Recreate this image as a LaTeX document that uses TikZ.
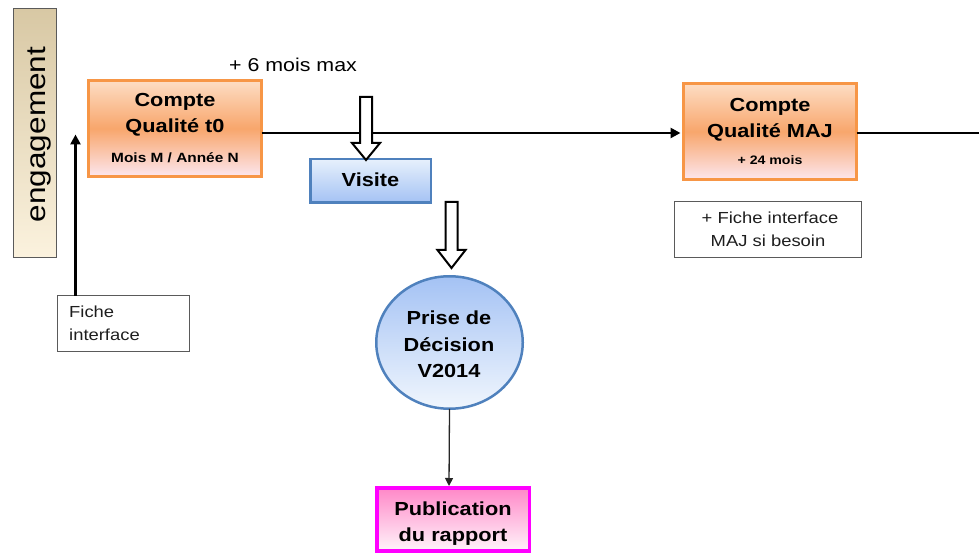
\documentclass[tikz,border=0pt]{standalone}
\usepackage{fontspec}
\setmainfont[FakeStretch=1.15]{Liberation Sans}
\usetikzlibrary{calc,arrows.meta,shapes.geometric}
\definecolor{cqborder}{HTML}{F79646}
\definecolor{cqtop}{HTML}{FDDDC4}
\definecolor{cqmid}{HTML}{F8A66C}
\definecolor{cqbot}{HTML}{FCE6EE}
\definecolor{blborder}{HTML}{4F81BD}
\definecolor{bllight}{HTML}{E6F0FC}
\definecolor{bldark}{HTML}{A4C2F4}
\definecolor{pkborder}{HTML}{FF00FF}
\definecolor{pktop}{HTML}{FF88C8}
\definecolor{pkbot}{HTML}{FFF4FA}
\definecolor{engtop}{HTML}{D8C8A4}
\definecolor{engbot}{HTML}{FBF2DE}
\definecolor{engborder}{HTML}{5A5A5A}
\definecolor{txtgray}{HTML}{1E1E1E}
\newcommand{\hollowdown}[4]{%
  \draw[hollow] (#1-6,#2) -- (#1-6,#3) -- (#1-14,#3) -- (#1,#4) -- (#1+14,#3) -- (#1+6,#3) -- (#1+6,#2) -- cycle;}
\begin{document}
\begin{tikzpicture}[x=1pt,y=-1pt,
  shapebox/.style={rectangle, inner sep=0pt, outer sep=0pt},
  orangebox/.style={shapebox, draw=cqborder, line width=3pt, top color=cqtop, bottom color=cqbot, middle color=cqmid, minimum width=173pt, minimum height=96pt},
  visitebox/.style={shapebox, draw=blborder, line width=2.5pt, top color=bllight, bottom color=bldark, minimum width=120.5pt, minimum height=43.5pt},
  decisionell/.style={ellipse, inner sep=0pt, outer sep=0pt, draw=blborder, line width=2.5pt, top color=bldark, bottom color=bllight!60!white, minimum width=146.5pt, minimum height=132.5pt},
  pubbox/.style={shapebox, draw=pkborder, line width=3.5pt, top color=pktop, bottom color=pkbot, minimum width=152.5pt, minimum height=63pt},
  engbox/.style={shapebox, draw=engborder, line width=1pt, top color=engtop, bottom color=engbot, minimum width=43pt, minimum height=249pt},
  notebox/.style={shapebox, draw=engborder, line width=1pt, fill=white},
  tb/.style={inner sep=0pt, anchor=base, font=\fontsize{18.9}{22}\selectfont\bfseries},
  tbs/.style={inner sep=0pt, anchor=base, font=\fontsize{13.4}{16}\selectfont\bfseries},
  tbxs/.style={inner sep=0pt, anchor=base, font=\fontsize{12.3}{15}\selectfont\bfseries},
  treg/.style={inner sep=0pt, anchor=base, text=txtgray, font=\fontsize{16}{20}\selectfont},
  tbig/.style={inner sep=0pt, anchor=base, font=\fontsize{18.6}{22}\selectfont},
  conn/.style={draw=black, line width=2.5pt},
  thinconn/.style={draw=black!85, line width=1.3pt},
  hollow/.style={draw=black, line width=2pt, fill=white, line join=miter},
]
\useasboundingbox (0,0) rectangle (979,553);

% engagement banner
\node[engbox] (eng) at (35,133) {};
\node[inner sep=0pt, anchor=base, rotate=90, font=\fontsize{27.4}{30}\selectfont] (engtxt) at (45,134.5) {engagement};

% Compte Qualite t0
\node[orangebox] (t0) at (175,128.5) {};
\node[tb] (t0a) at (175,107) {Compte};
\node[tb] (t0b) at (175,133) {Qualité t0};
\node[tbs] (t0c) at (175,163) {Mois M / Année N};

% Compte Qualite MAJ
\node[orangebox] (maj) at (770,131.5) {};
\node[tb] (maja) at (770,112) {Compte};
\node[tb] (majb) at (770,138) {Qualité MAJ};
\node[tbxs] (majc) at (770,165) {+ 24 mois};

% main timeline
\coordinate (mainline) at (0,133);
\coordinate (rightend) at (979,133);
\draw[conn, -{Triangle[length=10pt,width=10pt]}] (t0.east |- mainline) -- ($(maj.west |- mainline)+(-3,0)$);
\draw[conn] (maj.east |- mainline) -- (rightend);

% + 6 mois max
\node[tbig] (sixmois) at (293,72) {+ 6 mois max};

% Visite
\node[visitebox] (visite) at (370.5,181) {};
\node[tb] (visitetxt) at (370.5,187) {Visite};

% hollow arrows
\hollowdown{366}{97}{143}{160}
\hollowdown{451.5}{202}{250}{268}

% Prise de decision
\node[decisionell] (dec) at (449.5,342.5) {};
\node[tb] (deca) at (449,324) {Prise de};
\node[tb] (decb) at (449,351) {Décision};
\node[tb] (decc) at (449,377) {V2014};

% Publication
\node[pubbox] (pub) at (453,519.5) {};
\node[tb] (puba) at (453,515) {Publication};
\node[tb] (pubb) at (453,541) {du rapport};
\draw[thinconn, -{Triangle[length=8pt,width=8pt]}] (dec.south) -- ($(pub.north)+(-4,-2)$);

% Fiche interface (left)
\node[notebox, minimum width=132pt, minimum height=56pt] (fiche) at (123.5,323.5) {};
\node[treg, anchor=base west] (fichea) at (69,317) {Fiche};
\node[treg, anchor=base west] (ficheb) at (69,340) {interface};
\draw[conn, -{Triangle[length=10pt,width=10pt]}] ($(fiche.north west)+(18,0)$) -- ($(fiche.north west)+(18,-161)$);

% Fiche interface MAJ
\node[notebox, minimum width=187pt, minimum height=56pt] (fichemaj) at (768,229.5) {};
\node[treg] (fichemaja) at (770,224) {+ Fiche interface};
\node[treg] (fichemajb) at (768,247) {MAJ si besoin};
\end{tikzpicture}
\end{document}
